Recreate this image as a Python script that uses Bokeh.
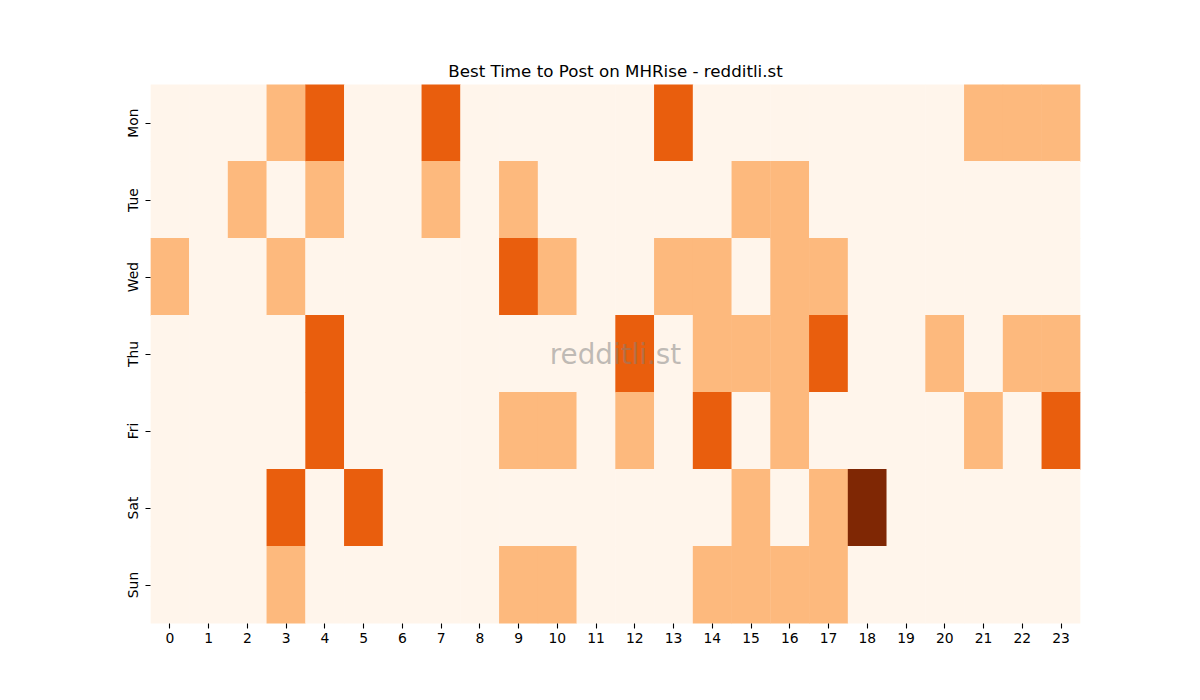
import numpy as np
from bokeh.plotting import figure
from bokeh.models import Range1d, FixedTicker, LinearColorMapper, Label, ColumnDataSource
from bokeh.palettes import Oranges256
from bokeh.transform import transform
from bokeh.embed import file_html
from bokeh.resources import INLINE


#########################################################
# data
#########################################################

days = ["Mon", "Tue", "Wed", "Thu", "Fri", "Sat", "Sun"]
hours = [str(h) for h in range(0, 24)]

# post score level per hour, one list per day
mon = [0, 0, 0, 1, 2, 0, 0, 2, 0, 0, 0, 0, 0, 2, 0, 0, 0, 0, 0, 0, 0, 1, 1, 1]
tue = [0, 0, 1, 0, 1, 0, 0, 1, 0, 1, 0, 0, 0, 0, 0, 1, 1, 0, 0, 0, 0, 0, 0, 0]
wed = [1, 0, 0, 1, 0, 0, 0, 0, 0, 2, 1, 0, 0, 1, 1, 0, 1, 1, 0, 0, 0, 0, 0, 0]
thu = [0, 0, 0, 0, 2, 0, 0, 0, 0, 0, 0, 0, 2, 0, 1, 1, 1, 2, 0, 0, 1, 0, 1, 1]
fri = [0, 0, 0, 0, 2, 0, 0, 0, 0, 1, 1, 0, 1, 0, 2, 0, 1, 0, 0, 0, 0, 1, 0, 2]
sat = [0, 0, 0, 2, 0, 2, 0, 0, 0, 0, 0, 0, 0, 0, 0, 1, 0, 1, 3, 0, 0, 0, 0, 0]
sun = [0, 0, 0, 1, 0, 0, 0, 0, 0, 1, 1, 0, 0, 0, 1, 1, 1, 1, 0, 0, 0, 0, 0, 0]

title = "Best Time to Post on MHRise - redditli.st"
watermark = "redditli.st"


#########################################################
# plotting
#########################################################

rows = [mon, tue, wed, thu, fri, sat, sun]
xs, ys, vals = [], [], []
for j in range(0, len(rows)):
    for i in range(0, len(rows[j])):
        xs.append(i + 0.5)
        ys.append(j + 0.5)
        vals.append(rows[j][i])
source = ColumnDataSource(data=dict(x=xs, y=ys, v=vals))

mapper = LinearColorMapper(palette=list(Oranges256[::-1]), low=0, high=3)

font = "DejaVu Sans"
p = figure(width=1184, height=684, output_backend="svg", toolbar_location=None,
           x_range=Range1d(0, len(hours)), y_range=Range1d(len(days), 0),
           min_border_left=150, min_border_right=104, min_border_top=84, min_border_bottom=61)

# cells slightly oversized so no seams show between equal neighbours
p.rect(x="x", y="y", width=1.01, height=1.01, source=source,
       fill_color=transform("v", mapper), line_color=None)

# title
p.title.text = title
p.title.align = "center"
p.title.text_font = font
p.title.text_font_size = "16.7px"
p.title.text_font_style = "normal"
p.title.text_color = "black"
p.title.standoff = 8

# axes
p.xaxis.ticker = FixedTicker(ticks=[i + 0.5 for i in range(0, len(hours))])
p.xaxis.major_label_overrides = {i + 0.5: hours[i] for i in range(0, len(hours))}
p.yaxis.ticker = FixedTicker(ticks=[j + 0.5 for j in range(0, len(days))])
p.yaxis.major_label_overrides = {j + 0.5: days[j] for j in range(0, len(days))}
p.yaxis.major_label_orientation = "vertical"

for ax in [p.xaxis, p.yaxis]:
    ax.axis_line_color = None
    ax.minor_tick_line_color = None
    ax.major_tick_in = 0
    ax.major_tick_out = 5
    ax.major_tick_line_width = 1.1
    ax.major_tick_line_color = "black"
    ax.major_label_text_font = font
    ax.major_label_text_font_size = "13.9px"
    ax.major_label_text_color = "black"
p.xaxis.major_label_standoff = 4
p.yaxis.major_label_standoff = 5

p.grid.visible = False
p.outline_line_color = None

# watermark in the middle of the axes
p.add_layout(Label(x=len(hours) / 2, y=len(days) / 2, text=watermark,
                   text_align="center", text_baseline="middle",
                   text_font=font, text_font_size="27.8px",
                   text_color="gray", text_alpha=0.5))

open("out.html", "w").write(file_html(p, INLINE))
